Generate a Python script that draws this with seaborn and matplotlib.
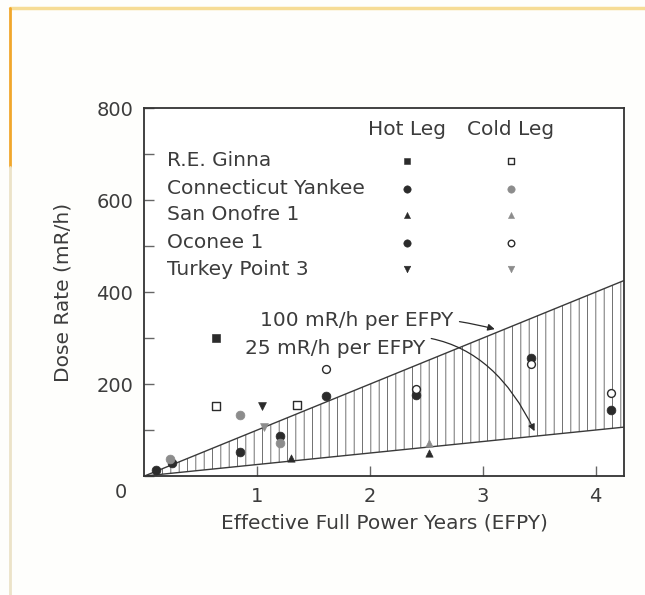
import numpy as np
import pandas as pd
import matplotlib
matplotlib.use("Agg")
import matplotlib.pyplot as plt
from matplotlib.lines import Line2D
import seaborn as sns

sns.set_theme(style="white")
plt.rcParams['font.family'] = ['DejaVu Sans']
plt.rcParams['hatch.linewidth'] = 0.55

# --- data ------------------------------------------------------------------
plants = ['R.E. Ginna', 'Connecticut Yankee', 'San Onofre 1', 'Oconee 1', 'Turkey Point 3']

ginna_hot_x = [0.63]
ginna_hot_y = [300]
ginna_cold_x = [0.63, 1.35]
ginna_cold_y = [152, 155]

cy_hot_x = [0.10, 0.24, 0.85, 1.20]
cy_hot_y = [13, 28, 52, 86]
cy_cold_x = [0.23, 0.85, 1.20]
cy_cold_y = [36, 133, 72]

so_hot_x = [1.30, 2.52]
so_hot_y = [39, 50]
so_cold_x = [2.52]
so_cold_y = [72]

oc_hot_x = [1.61, 2.41, 3.43, 4.14]
oc_hot_y = [175, 177, 256, 144]
oc_cold_x = [1.61, 2.41, 3.43, 4.14]
oc_cold_y = [232, 190, 243, 181]

tp_hot_x = [1.04]
tp_hot_y = [153]
tp_cold_x = [1.06]
tp_cold_y = [107]

rate_high = 100   # mR/h per EFPY
rate_low = 25
efpy_range = [0.0, 4.25]

# --- figure ----------------------------------------------------------------
fig = plt.figure(figsize=(6.45, 5.95), dpi=100)
fig.patch.set_facecolor('#fefefc')
ax = fig.add_axes([0.224, 0.2, 0.743, 0.618])
ax.set_facecolor('white')

ink = '#3c3c3c'
grey = '#8c8c8c'
fs = 14.5

# hatched band between the two dose-rate trends
xs = np.array(efpy_range)
ax.fill_between(xs, rate_low * xs, rate_high * xs, facecolor='none',
                edgecolor='#4a4a4a', hatch='||', linewidth=0)
ax.plot(xs, rate_high * xs, color='#3a3a3a', lw=1.0)
ax.plot(xs, rate_low * xs, color='#3a3a3a', lw=1.0)

styles = [
    # (hot x, hot y, hot kwargs, cold x, cold y, cold kwargs)
    (ginna_hot_x, ginna_hot_y, dict(marker='s', color='#2b2b2b', s=30, edgecolor='#2b2b2b'),
     ginna_cold_x, ginna_cold_y, dict(marker='s', facecolor='white', s=30, edgecolor='#2b2b2b', linewidth=1.0)),
    (cy_hot_x, cy_hot_y, dict(marker='o', color='#2b2b2b', s=40, edgecolor='#2b2b2b'),
     cy_cold_x, cy_cold_y, dict(marker='o', color=grey, s=40, edgecolor=grey)),
    (so_hot_x, so_hot_y, dict(marker='^', color='#2b2b2b', s=28, edgecolor='#2b2b2b'),
     so_cold_x, so_cold_y, dict(marker='^', color=grey, s=28, edgecolor=grey)),
    (oc_hot_x, oc_hot_y, dict(marker='o', color='#2b2b2b', s=40, edgecolor='#2b2b2b'),
     oc_cold_x, oc_cold_y, dict(marker='o', facecolor='white', s=32, edgecolor='#2b2b2b', linewidth=1.0)),
    (tp_hot_x, tp_hot_y, dict(marker='v', color='#2b2b2b', s=32, edgecolor='#2b2b2b'),
     tp_cold_x, tp_cold_y, dict(marker='v', color=grey, s=32, edgecolor=grey)),
]

for hx, hy, hkw, cx, cy, ckw in styles:
    sns.scatterplot(x=hx, y=hy, ax=ax, zorder=3, **hkw)
    sns.scatterplot(x=cx, y=cy, ax=ax, zorder=3, **ckw)

# table-style legend inside the plot
ax.text(2.33, 754, 'Hot Leg', ha='center', va='center', fontsize=fs, color=ink)
ax.text(3.25, 754, 'Cold Leg', ha='center', va='center', fontsize=fs, color=ink)
row_y = [686, 625, 568, 507, 450]
for name, ry, (hx, hy, hkw, cx, cy, ckw) in zip(plants, row_y, styles):
    ax.text(0.2, ry, name, ha='left', va='center', fontsize=fs, color=ink)
    hk = dict(hkw, s=hkw['s'] * 0.7)
    ck = dict(ckw, s=ckw['s'] * 0.7)
    sns.scatterplot(x=[2.33], y=[ry], ax=ax, zorder=3, **hk)
    sns.scatterplot(x=[3.25], y=[ry], ax=ax, zorder=3, **ck)

# rate annotations
ax.annotate('100 mR/h per EFPY', xy=(3.13, 318), xytext=(2.74, 339),
            ha='right', va='center', fontsize=fs, color=ink,
            arrowprops=dict(arrowstyle='-|>', color='#2b2b2b', lw=0.9,
                            connectionstyle='arc3,rad=-0.1', mutation_scale=10))
ax.annotate('25 mR/h per EFPY', xy=(3.47, 92), xytext=(2.49, 278),
            ha='right', va='center', fontsize=fs, color=ink,
            arrowprops=dict(arrowstyle='-|>', color='#2b2b2b', lw=0.9,
                            connectionstyle='arc3,rad=-0.45', mutation_scale=10))

ax.set_xlim(efpy_range)
ax.set_ylim(0, 800)
ax.set_xticks([1, 2, 3, 4])
ax.set_xticklabels(['1', '2', '3', '4'])
ax.set_yticks([0, 200, 400, 600, 800])
ax.set_yticklabels(['', '200', '400', '600', '800'])
ax.set_yticks([100, 300, 500, 700], minor=True)
ax.tick_params(axis='both', which='both', direction='in', color='#666666',
               labelsize=14, labelcolor=ink, left=True, bottom=True)
ax.tick_params(axis='both', which='major', length=7, width=1, pad=8)
ax.tick_params(axis='y', which='minor', length=7, width=1)
for side in ax.spines.values():
    side.set_color('#333333')
    side.set_linewidth(1.3)

# shared origin label sits at the corner, below the axis line
ax.text(-0.21, -35, '0', ha='center', va='center', fontsize=14, color=ink, clip_on=False)

ax.set_xlabel('Effective Full Power Years (EFPY)', fontsize=fs, color=ink, labelpad=5)
ax.set_ylabel('Dose Rate (mR/h)', fontsize=fs, color=ink)
ax.yaxis.set_label_coords(-0.15, 0.5)

# page border seen around the scanned figure
fig.add_artist(Line2D([0.016, 1.0], [0.986, 0.986], color='#f6dc95', lw=2.5))
fig.add_artist(Line2D([0.016, 0.016], [0.986, 0.72], color='#f1a72c', lw=2.0))
fig.add_artist(Line2D([0.016, 0.016], [0.72, 0.0], color='#ece3c8', lw=2.0))

fig.savefig('out.png', dpi=100, facecolor=fig.get_facecolor())
